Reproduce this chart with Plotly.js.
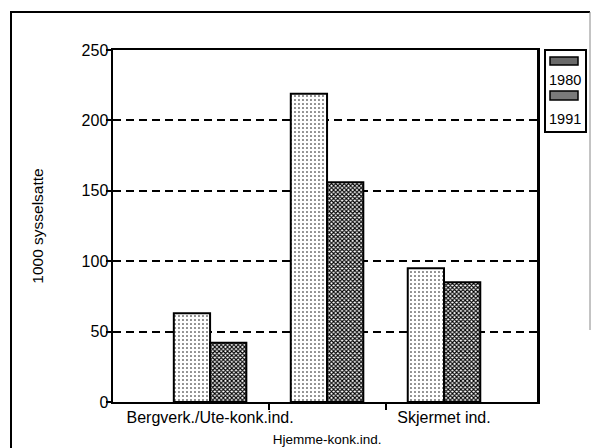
<!DOCTYPE html>
<html><head><meta charset="utf-8">
<script src="https://cdn.plot.ly/plotly-3.0.1.min.js"></script>
<style>html,body{margin:0;padding:0;background:#fff}</style>
</head><body><div id="chart" style="width:591px;height:448px"></div>
<script>
// ---- data ----
const categories = ["Bergverk./Ute-konk.ind.", "Hjemme-konk.ind.", "Skjermet ind."];
const seriesNames = ["1980", "1991"];
const values1980 = [63, 219, 95];
const values1991 = [42, 156, 85];
const yTickValues = [0, 50, 100, 150, 200, 250];
const yTitle = "1000 sysselsatte";

// ---- layout helpers (pixel -> paper) ----
const W = 591, H = 448, ML = 113, MR = 54, MT = 50, MB = 46;
const PW = W - ML - MR, PH = H - MT - MB;
const px = x => (x - ML) / PW;
const py = y => (H - MB - y) / PH;
const FONT = "Liberation Sans, Arial, Helvetica, sans-serif";

const xIdx = categories.map((c, i) => i);
const tickText = categories.map((c, i) => i === 1 ? '<br><span style="font-size:13.5px">' + c + '</span>' : c);

const traces = [
  {
    type: 'bar', name: seriesNames[0], x: xIdx, y: values1980,
    marker: { color: '#fff', line: { color: '#000', width: 2 },
      pattern: { shape: '.', size: 4, solidity: 0.12, fgcolor: '#000', bgcolor: '#fff' } },
    hoverinfo: 'y'
  },
  {
    type: 'bar', name: seriesNames[1], x: xIdx, y: values1991,
    marker: { color: '#fff', line: { color: '#000', width: 2 },
      pattern: { shape: 'x', size: 3, solidity: 0.6, fgcolor: '#000', bgcolor: '#fff' } },
    hoverinfo: 'y'
  }
];

// manual legend (swatch above label, as in the original)
const swatchFill = ['#6a6a6a', '#7a7a7a'];
const legendRows = [{ sw: [57, 65], txt: 80 }, { sw: [91, 100], txt: 119 }];
const shapes = [
  // outer frame
  { type: 'line', xref: 'paper', yref: 'paper', x0: px(10), x1: px(590), y0: py(12), y1: py(12), line: { color: '#000', width: 2 } },
  { type: 'line', xref: 'paper', yref: 'paper', x0: px(11), x1: px(11), y0: py(12), y1: py(448), line: { color: '#000', width: 2 } },
  { type: 'line', xref: 'paper', yref: 'paper', x0: px(590), x1: px(590), y0: py(12), y1: py(330), line: { color: '#888', width: 1 } },
  // legend box
  { type: 'rect', xref: 'paper', yref: 'paper', x0: px(545), x1: px(586), y0: py(50), y1: py(132), line: { color: '#000', width: 2 }, fillcolor: 'rgba(0,0,0,0)' }
];
const annotations = [];
seriesNames.forEach((n, i) => {
  const r = legendRows[i];
  shapes.push({ type: 'rect', xref: 'paper', yref: 'paper', x0: px(550), x1: px(578), y0: py(r.sw[0]), y1: py(r.sw[1]),
    line: { color: '#000', width: 1.5 }, fillcolor: swatchFill[i] });
  annotations.push({ xref: 'paper', yref: 'paper', x: px(565), y: py(r.txt), text: n, showarrow: false,
    xanchor: 'center', yanchor: 'middle', font: { family: FONT, size: 14.5, color: '#000' } });
});

const layout = {
  width: W, height: H,
  margin: { l: ML, r: MR, t: MT, b: MB },
  paper_bgcolor: '#fff', plot_bgcolor: '#fff',
  font: { family: FONT, color: '#000', size: 15 },
  showlegend: false,
  barmode: 'group', bargap: 0.38, bargroupgap: 0,
  xaxis: {
    range: [-0.83, 2.795], tickmode: 'array', tickvals: xIdx, ticktext: tickText,
    tickangle: 0, ticks: '', showgrid: false, zeroline: false,
    showline: true, linecolor: '#000', linewidth: 2, mirror: true,
    tickfont: { family: FONT, size: 16, color: '#000' },
    minor: { tickmode: 'array', tickvals: [0.5, 1.5], ticks: 'outside', ticklen: 6, tickwidth: 2, tickcolor: '#000', showgrid: false },
    fixedrange: true
  },
  yaxis: {
    range: [0, 250], tickmode: 'array', tickvals: yTickValues,
    ticks: 'outside', ticklen: 5, tickwidth: 2, tickcolor: '#000',
    ticklabelstandoff: -6,
    showgrid: true, gridcolor: '#000', gridwidth: 2, griddash: '8px,5px',
    zeroline: false, showline: true, linecolor: '#000', linewidth: 2.5, mirror: true,
    tickfont: { family: FONT, size: 16, color: '#000' },
    title: { text: yTitle, font: { family: FONT, size: 15.5, color: '#000' }, standoff: 34 },
    fixedrange: true
  },
  shapes: shapes,
  annotations: annotations
};

Plotly.newPlot('chart', traces, layout, { displayModeBar: false, staticPlot: true });
</script>
</body></html>
